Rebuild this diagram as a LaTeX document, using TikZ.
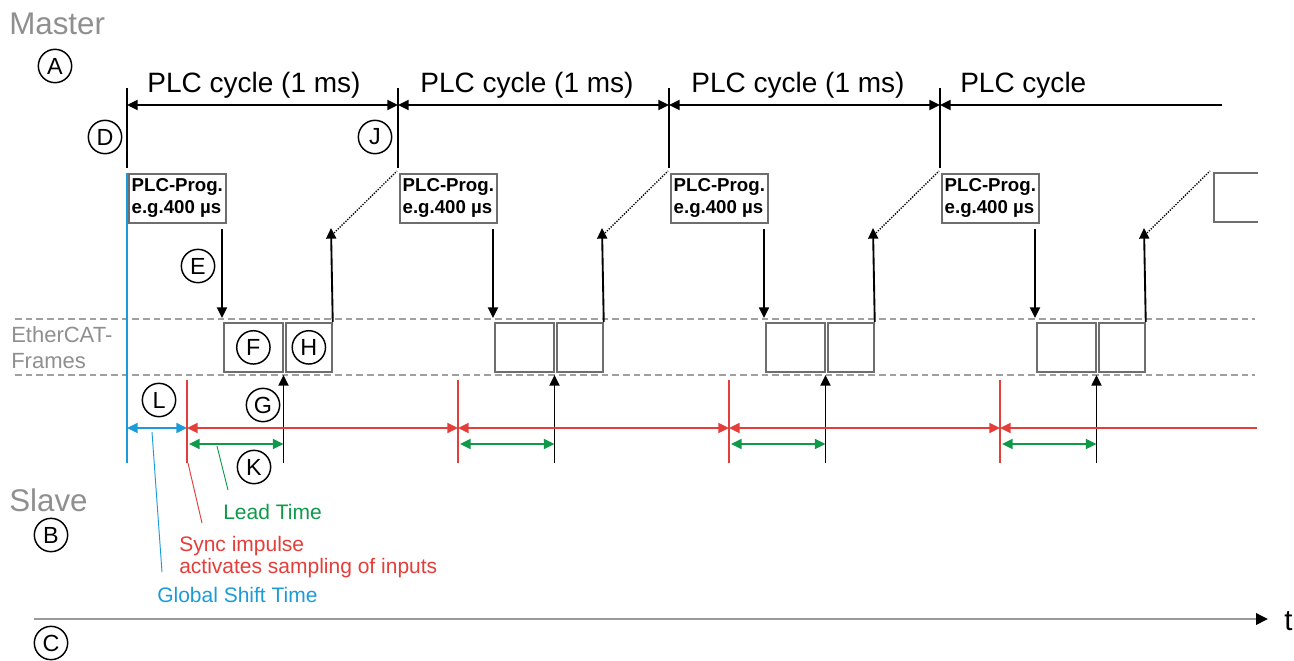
\documentclass[tikz,border=0pt]{standalone}
\usepackage{fontspec}
\setmainfont{Liberation Sans}
\usetikzlibrary{arrows.meta}
\definecolor{lblgrey}{HTML}{8F8F8F}
\definecolor{boxgrey}{HTML}{6E6E6E}
\definecolor{dashgrey}{HTML}{A0A0A0}
\definecolor{myred}{HTML}{E33E3A}
\definecolor{mygreen}{HTML}{0E9A48}
\definecolor{myblue}{HTML}{1C9BD9}
\definecolor{axisgrey}{HTML}{9A9A9A}
\tikzset{
  mytip/.tip={Triangle[length=8pt,width=7.5pt]},
  blk/.style={line width=1.4pt, draw=black},
  dimline/.style={blk, {mytip}-{mytip}},
  reddim/.style={line width=1.5pt, draw=myred, {mytip}-{mytip}},
  greendim/.style={line width=1.5pt, draw=mygreen, {mytip}-{mytip}},
  bluedim/.style={line width=1.5pt, draw=myblue, {mytip}-{mytip}},
  circ/.style={circle, draw=black, line width=1.1pt, minimum size=25pt, inner sep=0pt, font=\fontsize{17.5}{17.5}\selectfont},
  biglbl/.style={inner sep=0pt, anchor=base west, text=lblgrey, font=\fontsize{23.5}{27}\selectfont},
  ecatlbl/.style={inner sep=0pt, anchor=base west, text=lblgrey, font=\fontsize{16.5}{20}\selectfont},
  plccyc/.style={inner sep=0pt, anchor=base, font=\fontsize{21}{24}\selectfont},
  note/.style={inner sep=0pt, anchor=base west, font=\fontsize{15.75}{18}\selectfont},
  progbox/.style={draw=boxgrey, line width=1.2pt, minimum width=72.75pt, minimum height=36.75pt, inner xsep=2pt, inner ysep=1pt, align=left, font=\bfseries\fontsize{14}{16.5}\selectfont},
  frbox/.style={draw=boxgrey, line width=1.3pt, minimum height=36.75pt, inner sep=0pt},
  boxline/.style={draw=boxgrey, line width=1.2pt},
  dashline/.style={draw=dashgrey, line width=1pt, dash pattern=on 5pt off 3pt},
  dotline/.style={draw=black, line width=1pt, dash pattern=on 1pt off 1pt},
  pointer/.style={line width=0.7pt}
}
\begin{document}
\begin{tikzpicture}[x=0.75pt,y=-0.75pt]
\useasboundingbox (0,0) rectangle (1294,660);

% side labels
\node[biglbl] (master) at (9,35) {Master};
\node[biglbl] (slave) at (9,511) {Slave};
\node[ecatlbl] (ecat1) at (11,342) {EtherCAT-};
\node[ecatlbl] (ecat2) at (11,368) {Frames};

% dashed frame band
\coordinate (dl1) at (15,319); \coordinate (dr1) at (1255,319);
\coordinate (dl2) at (15,375); \coordinate (dr2) at (1255,375);
\draw[dashline] (dl1) -- (dr1);
\draw[dashline] (dl2) -- (dr2);

% cycles
\foreach \i in {0,1,2,3} {
  \pgfmathsetmacro\X{127+271*\i}
  \coordinate (ct\i) at (\X,88);
  \coordinate (cb\i) at (\X,168);
  \coordinate (dm\i) at (\X,105);
  \coordinate (rv\i) at (\X+60,380);
  \coordinate (rb\i) at (\X+60,463);
  \coordinate (rm\i) at (\X+60,428);
  \coordinate (es\i) at (\X+95,229);
  \coordinate (ee\i) at (\X+95,318);
  \coordinate (ut\i) at (\X+204,228);
  \coordinate (ds\i) at (\X+207,233);
  \coordinate (de\i) at (\X+270,171);
  \coordinate (gb\i) at (\X+156.5,463);
  \coordinate (gt\i) at (\X+156.5,375);
  \coordinate (ga\i) at (\X+62,444);
  \coordinate (gz\i) at (\X+156.5,444);
  \draw[blk] (ct\i) -- (cb\i);
  \node[progbox, anchor=north west] (pp\i) at (\X+1,173) {PLC-Prog.\\e.g.400 µs};
  \draw[blk, -{mytip}] (es\i) -- (ee\i);
  \node[frbox, minimum width=44.25pt, anchor=north west] (fa\i) at (\X+96,322) {};
  \node[frbox, minimum width=34.5pt, anchor=north west] (fb\i) at (\X+158,322) {};
  \draw[blk, -{mytip}] (fb\i.north east) -- (ut\i);
  \draw[dotline] (ds\i) -- (de\i);
  \draw[blk, -{mytip}] (gb\i) -- (gt\i);
  \draw[line width=1.5pt, myred] (rv\i) -- (rb\i);
  \draw[greendim] (ga\i) -- (gz\i);
}

% PLC cycle labels
\node[plccyc] (pc0) at (254,93) {PLC cycle (1 ms)};
\node[plccyc] (pc1) at (527,93) {PLC cycle (1 ms)};
\node[plccyc] (pc2) at (798,93) {PLC cycle (1 ms)};
\node[plccyc, anchor=base west] (pc3) at (960,93) {PLC cycle};

% top dimension line
\foreach \i/\j in {0/1,1/2,2/3} { \draw[dimline] (dm\i) -- (dm\j); }
\coordinate (dmEnd) at (1222,105);
\draw[blk, {mytip}-] (dm3) -- (dmEnd);

% red sync line
\foreach \i/\j in {0/1,1/2,2/3} { \draw[reddim] (rm\i) -- (rm\j); }
\coordinate (rmEnd) at (1257,428);
\draw[line width=1.5pt, myred, {mytip}-] (rm3) -- (rmEnd);

% partial next box
\coordinate (pb1) at (1258,173); \coordinate (pb2) at (1214,173);
\coordinate (pb3) at (1214,222); \coordinate (pb4) at (1258,222);
\draw[boxline] (pb1) -- (pb2) -- (pb3) -- (pb4);

% blue global shift
\coordinate (bt) at (127,173); \coordinate (bb) at (127,463);
\coordinate (bm) at (127,428);
\draw[line width=1.5pt, myblue] (bt) -- (bb);
\draw[bluedim] (bm) -- (rm0);

% circle markers
\node[circ] (cA) at (55,66) {A};
\node[circ] (cD) at (105,137) {D};
\node[circ] (cJ) at (375,137) {J};
\node[circ] (cE) at (198,266) {E};
\node[circ] (cF) at (fa0.center) {F};
\node[circ] (cH) at (fb0.center) {H};
\node[circ] (cL) at (159,400) {L};
\node[circ] (cG) at (263,405) {G};
\node[circ] (cK) at (254,467) {K};
\node[circ] (cB) at (51,535) {B};
\node[circ] (cC) at (51,643) {C};

% annotations
\node[note, text=mygreen] (lead) at (223,519) {Lead Time};
\node[note, text=myred] (sync1) at (179,551) {Sync impulse};
\node[note, text=myred] (sync2) at (179,573) {activates sampling of inputs};
\node[note, text=myblue] (gst) at (157,602) {Global Shift Time};
\coordinate (gp1) at (217,446); \coordinate (gp2) at (228,490);
\coordinate (rp1) at (188,463); \coordinate (rp2) at (202,523);
\coordinate (bp1) at (152,432); \coordinate (bp2) at (162,572);
\draw[pointer, mygreen] (gp1) -- (gp2);
\draw[pointer, myred] (rp1) -- (rp2);
\draw[pointer, myblue] (bp1) -- (bp2);

% time axis
\coordinate (ax0) at (34,619); \coordinate (ax1) at (1268,619);
\draw[line width=1.8pt, axisgrey, -{Triangle[length=9pt,width=8.5pt,color=black]}] (ax0) -- (ax1);
\node[inner sep=0pt, anchor=base west, font=\fontsize{22}{24}\selectfont] (tl) at (1284,630) {t};
\end{tikzpicture}
\end{document}
